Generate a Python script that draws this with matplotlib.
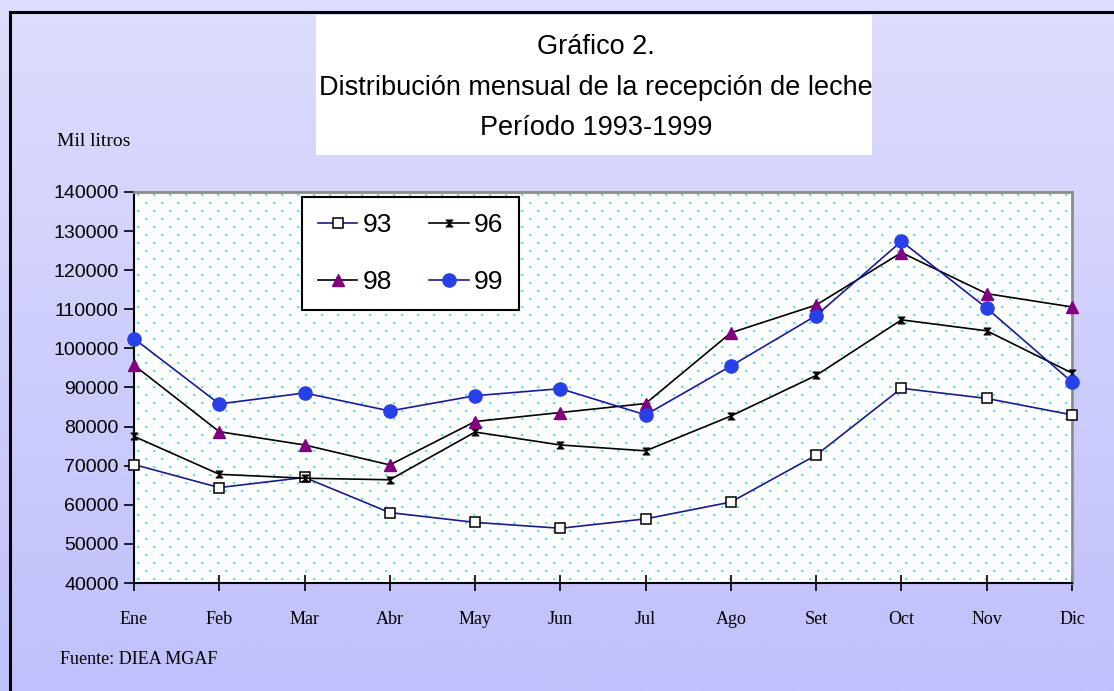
import numpy as np
import matplotlib
matplotlib.use("Agg")
import matplotlib.pyplot as plt
from matplotlib.path import Path

months = ["Ene", "Feb", "Mar", "Abr", "May", "Jun", "Jul", "Ago", "Set", "Oct", "Nov", "Dic"]
s93 = [70300, 64400, 67000, 58000, 55500, 54000, 56400, 60700, 72700, 89800, 87200, 83000]
s96 = [77500, 67800, 66800, 66400, 78600, 75300, 73800, 82700, 93100, 107300, 104500, 93700]
s98 = [95700, 78700, 75300, 70200, 81300, 83600, 85900, 104000, 111100, 124500, 114000, 110600]
s99 = [102500, 85800, 88600, 84000, 87900, 89700, 83000, 95500, 108400, 127400, 110300, 91400]
yticks = [40000, 50000, 60000, 70000, 80000, 90000, 100000, 110000, 120000, 130000, 140000]

SANS = ["Liberation Sans", "DejaVu Sans"]
SERIF = ["Liberation Serif", "DejaVu Serif"]

W, H = 1114, 691
fig = plt.figure(figsize=(W / 100, H / 100), dpi=100)

# gradient background
bg = fig.add_axes([0, 0, 1, 1], zorder=-10)
grad = np.linspace(0, 1, 256).reshape(-1, 1)
c_top = np.array([0xdd, 0xdd, 0xfc]) / 255
c_bot = np.array([0xc0, 0xc0, 0xfc]) / 255
img = c_top[None, None, :] * (1 - grad[:, :, None]) + c_bot[None, None, :] * grad[:, :, None]
bg.imshow(img, aspect="auto", extent=[0, 1, 0, 1], origin="upper")
bg.set_xlim(0, 1); bg.set_ylim(0, 1)
bg.axis("off")
bg.plot([10 / W, 10 / W], [0, 1 - 12 / H], color="black", lw=2.2)
bg.plot([10 / W, 1], [1 - 12 / H, 1 - 12 / H], color="black", lw=2.2)
bg.add_patch(plt.Rectangle((316 / W, 1 - 155 / H), (872 - 316) / W, (155 - 15) / H,
                           facecolor="white", edgecolor="none"))

fig.text(596 / W, 1 - 47 / H, "Gráfico 2.", ha="center", va="center", fontsize=19.5, family=SANS)
fig.text(596 / W, 1 - 88 / H, "Distribución mensual de la recepción de leche", ha="center",
         va="center", fontsize=19.5, family=SANS)
fig.text(596 / W, 1 - 128 / H, "Período 1993-1999", ha="center", va="center", fontsize=19.5, family=SANS)
fig.text(57 / W, 1 - 142 / H, "Mil litros", ha="left", va="center", fontsize=14, family=SERIF)
fig.text(60 / W, 1 - 659 / H, "Fuente: DIEA MGAF", ha="left", va="center", fontsize=13, family=SERIF)

L, R, T, B = 134, 1072, 192, 583
ax = fig.add_axes([L / W, 1 - B / H, (R - L) / W, (B - T) / H])
ax.set_facecolor("white")
x = np.arange(len(months))
ax.set_xlim(0, len(months) - 1)
ax.set_ylim(40000, 140000)

# dotted cyan pattern
nx = int((R - L) / 16) + 1
ny = int((B - T) / 8) + 1
px, py = [], []
for j in range(ny):
    off = 8 if j % 2 else 0
    for i in range(nx):
        xx = 4 + off + i * 16
        if xx < (R - L) - 2:
            px.append(xx / (R - L))
            py.append((4 + j * 8) / (B - T))
ax.scatter(px, py, s=2.2, marker="s", color="#50e8f4", linewidths=0, transform=ax.transAxes, zorder=0)

hour = Path([(-1, 1), (1, 1), (-1, -1), (1, -1), (-1, 1)],
            [Path.MOVETO, Path.LINETO, Path.LINETO, Path.LINETO, Path.CLOSEPOLY])

l93, = ax.plot(x, s93, color="#1a1a8c", lw=1.2, marker="s", ms=6.5, mfc="white", mec="black",
               mew=1.1, zorder=3, clip_on=False)
l96, = ax.plot(x, s96, color="black", lw=1.2, marker=hour, ms=5, mfc="black", mec="black",
               mew=0.8, zorder=3, clip_on=False)
l98, = ax.plot(x, s98, color="black", lw=1.2, marker="^", ms=8.5, mfc="#800080", mec="#800080",
               zorder=4, clip_on=False)
l99, = ax.plot(x, s99, color="#1a1a9c", lw=1.2, marker="o", ms=9.5, mfc="#2840e8", mec="#2840e8",
               zorder=5, clip_on=False)

ax.set_yticks(yticks)
ax.set_yticklabels([str(v) for v in yticks], family=SANS, fontsize=14)
ax.set_xticks(x)
ax.set_xticklabels(months, family=SERIF, fontsize=13)
ax.tick_params(axis="y", direction="out", length=7, width=1.2, pad=4)
ax.tick_params(axis="x", direction="inout", length=12, width=1.2, pad=14)

for s in ["left", "bottom"]:
    ax.spines[s].set_color("black")
    ax.spines[s].set_linewidth(1.5)
for s in ["top", "right"]:
    ax.spines[s].set_color("#8c8c8c")
    ax.spines[s].set_linewidth(2.0)

leg = ax.legend([l93, l98, l96, l99], ["93", "98", "96", "99"], ncol=2,
                loc="upper left", bbox_to_anchor=((302 - L) / (R - L), 1 - (197 - T) / (B - T)),
                borderaxespad=0, frameon=True, fancybox=False, edgecolor="black", facecolor="white",
                prop={"family": SANS, "size": 19}, handlelength=1.5, handletextpad=0.2,
                columnspacing=1.4, labelspacing=1.25, borderpad=0.6, framealpha=1)
leg.get_frame().set_linewidth(1.5)
leg.set_zorder(10)

fig.savefig("out.png", dpi=100)
